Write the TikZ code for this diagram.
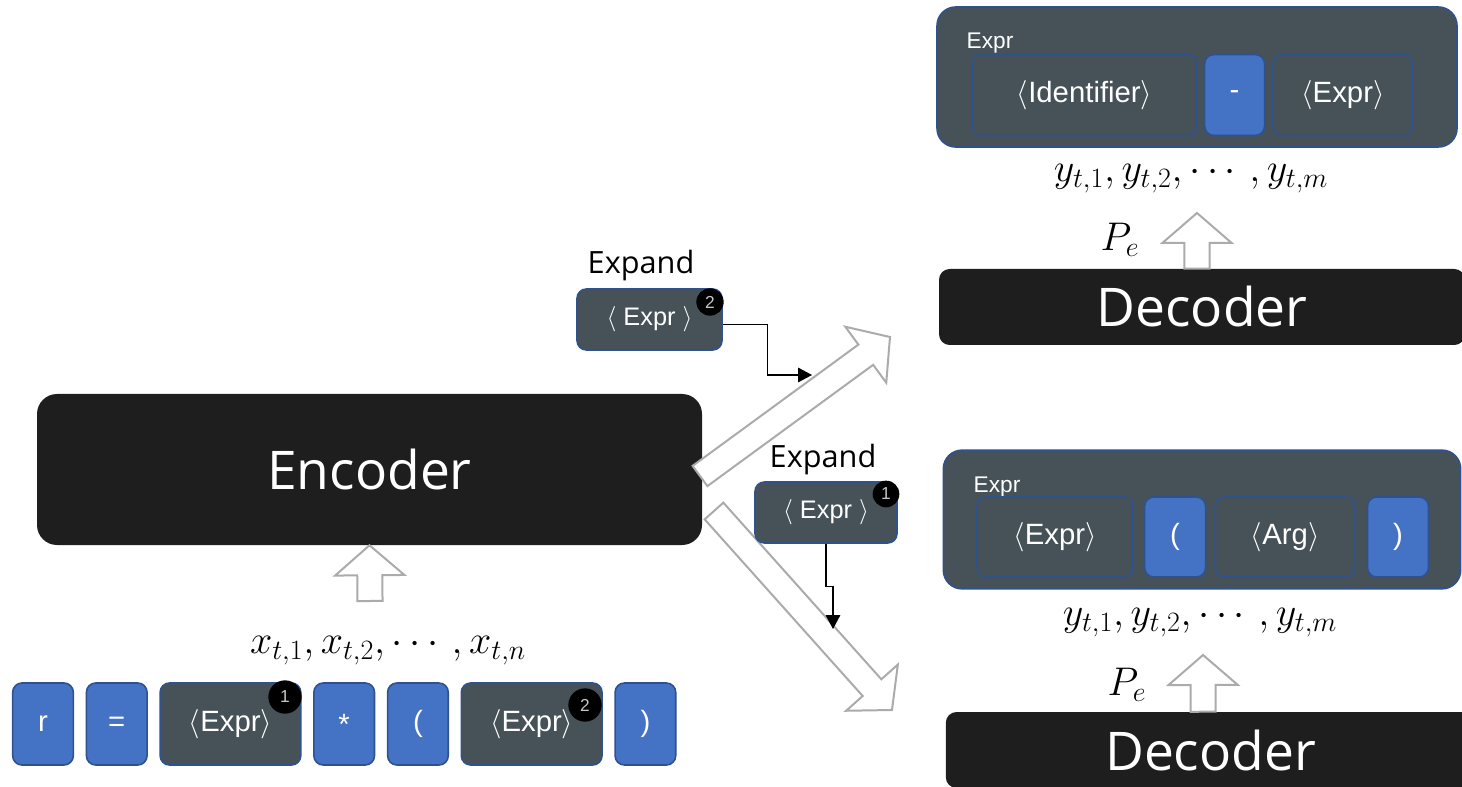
\RequirePackage{fix-cm}
\documentclass[tikz,border=0pt]{standalone}
\usepackage{amsmath}
\usepackage{fontspec}
\setmainfont{Liberation Sans}
\newfontfamily\blockfont{Open Sans}
\usetikzlibrary{positioning,calc,arrows.meta}

\definecolor{tokblue}{HTML}{4472C4}
\definecolor{tokedge}{HTML}{2F528F}
\definecolor{ntgray}{HTML}{465257}
\definecolor{blockblack}{HTML}{1E1E1E}
\definecolor{arrowgray}{HTML}{ABABAB}

% non-terminal text with angle brackets
\newcommand{\nterm}[1]{$\langle$#1$\rangle$}

% hollow block arrow from #1 to #2
\newcommand{\hollowarrow}[2]{%
  \draw[hollow] let \p1=($(#2)-(#1)$), \n1={atan2(\y1,\x1)}, \n2={veclen(\x1,\y1)} in
    [shift={(#1)}, rotate=\n1]
    (0pt,-9.4pt) -- ({\n2-22.5pt},-9.4pt) -- ({\n2-22.5pt},-26pt) -- (\n2,0pt)
    -- ({\n2-22.5pt},26pt) -- ({\n2-22.5pt},9.4pt) -- (0pt,9.4pt) -- cycle;
}

\begin{document}
\begin{tikzpicture}[x=0.75pt, y=-0.75pt, node distance=8.6pt,
  tok/.style={draw=tokedge, line width=1.2pt, fill=tokblue, rounded corners=7pt,
    text=white, minimum width=45.5pt, minimum height=61.5pt, inner sep=0pt,
    font=\fontsize{22}{26}\selectfont},
  nt/.style={tok, fill=ntgray, minimum width=105.5pt},
  box/.style={draw=tokedge, line width=1.2pt, fill=ntgray, rounded corners=14pt},
  block/.style={fill=blockblack, text=white, rounded corners=8pt,
    font=\blockfont\fontsize{40}{48}\selectfont},
  badge/.style={circle, fill=black, minimum size=24pt, inner sep=0pt,
    text=gray!45, font=\fontsize{13}{15}\selectfont},
  explbl/.style={font=\blockfont\fontsize{23}{27}\selectfont},
  mathlbl/.style={font=\fontsize{30}{36}\selectfont},
  hollow/.style={draw=arrowgray, line width=1.5pt, fill=white, line join=miter},
  conn/.style={draw=black, line width=0.8pt, -{Triangle[length=10.5pt,width=11pt]}}]

  \useasboundingbox (0,0) rectangle (1462,787);
  \clip (0,0) rectangle (1462,787);

  % encoder and decoders
  \node[block, minimum width=498.75pt, minimum height=113.25pt, rounded corners=15pt]
    (enc) at (369.5,469.5) {Encoder};
  \node[block, minimum width=394.5pt, minimum height=57pt] (dec1) at (1202,307) {Decoder};
  \node[block, minimum width=397pt, minimum height=57pt] (dec2) at (1210.5,750) {Decoder};

  % input tokens
  \node[tok] (r) at (43,724) {r};
  \node[tok, right=of r] (eq) {=};
  \node[nt, right=of eq] (ex1) {\nterm{Expr}};
  \node[tok, right=of ex1] (star) {*};
  \node[tok, right=of star] (lp) {(};
  \node[nt, right=of lp] (ex2) {\nterm{Expr}};
  \node[tok, right=of ex2] (rp) {)};
  \node[badge, minimum size=25pt] (b1) at (285,697) {1};
  \node[badge, minimum size=25pt] (b2) at (585,705) {2};

  \node[mathlbl] (xs) at (388,650) {$x_{t,1}, x_{t,2}, \cdots, x_{t,n}$};

  % upper output
  \node[box, minimum width=390pt, minimum height=105pt] (out1) at (1197,77) {};
  \node[anchor=west, text=white, font=\fontsize{17}{20}\selectfont] (out1 lbl) at (962,43) {Expr};
  \node[nt, minimum width=168.75pt, minimum height=60.75pt] (id) at (1084.5,95) {\nterm{Identifier}};
  \node[tok, minimum width=45pt, minimum height=60.75pt, right=4.5pt of id] (minus) {-};
  \node[nt, minimum width=105pt, minimum height=60.75pt, right=5pt of minus] (ex3) {\nterm{Expr}};
  \node[mathlbl] (ys1) at (1191,178) {$y_{t,1}, y_{t,2}, \cdots, y_{t,m}$};
  \node[mathlbl] (pe1) at (1120,240) {$P_e$};

  % lower output
  \node[box, minimum width=388pt, minimum height=104pt] (out2) at (1202,519.5) {};
  \node[anchor=west, text=white, font=\fontsize{17}{20}\selectfont] (out2 lbl) at (969,487) {Expr};
  \node[nt, minimum width=117pt, minimum height=60pt] (ex4) at (1055,537) {\nterm{Expr}};
  \node[tok, minimum width=45.75pt, minimum height=60pt, right=7.5pt of ex4] (lp2) {(};
  \node[nt, minimum width=105pt, minimum height=60pt, right=6pt of lp2] (arg) {\nterm{Arg}};
  \node[tok, minimum width=45.75pt, minimum height=60pt, right=8pt of arg] (rp2) {)};
  \node[mathlbl] (ys2) at (1200,622) {$y_{t,1}, y_{t,2}, \cdots, y_{t,m}$};
  \node[mathlbl] (pe2) at (1127,685) {$P_e$};

  % block arrows
  \coordinate (enc in) at (370,601);
  \coordinate (dec1 out) at (1197,213);
  \coordinate (dec2 out) at (1203,655);
  \coordinate (up tail) at (700,476);
  \coordinate (up tip) at (890,337);
  \coordinate (down tail) at (714,511);
  \coordinate (down tip) at (892,710);
  \hollowarrow{enc in}{enc.south}
  \hollowarrow{[xshift=-3.75pt]dec1.north}{dec1 out}
  \hollowarrow{[xshift=-5.5pt]dec2.north}{dec2 out}
  \hollowarrow{up tail}{up tip}
  \hollowarrow{down tail}{down tip}

  % expanded non-terminals
  \node[nt, minimum width=108.75pt, minimum height=45.75pt, font=\fontsize{19}{22}\selectfont]
    (exp2) at (649.5,319.5) {$\langle$ Expr $\rangle$};
  \node[badge, minimum size=20.5pt] at (710,302) {2};
  \node[explbl] (exp2 lbl) at (641,266) {Expand};
  \node[nt, minimum width=106.5pt, minimum height=45.75pt, font=\fontsize{19}{22}\selectfont]
    (exp1) at (826,512.5) {$\langle$ Expr $\rangle$};
  \node[badge, minimum size=20pt] at (886,494) {1};
  \node[explbl] (exp1 lbl) at (823,460) {Expand};

  \coordinate (hit2) at (812,375);
  \coordinate (hit1) at (833,629);
  \draw[conn] ([yshift=-4pt]exp2.east) -- ++(45,0) |- (hit2);
  \draw[conn] (exp1.south) -- ++(0,43) -| (hit1);
\end{tikzpicture}
\end{document}
